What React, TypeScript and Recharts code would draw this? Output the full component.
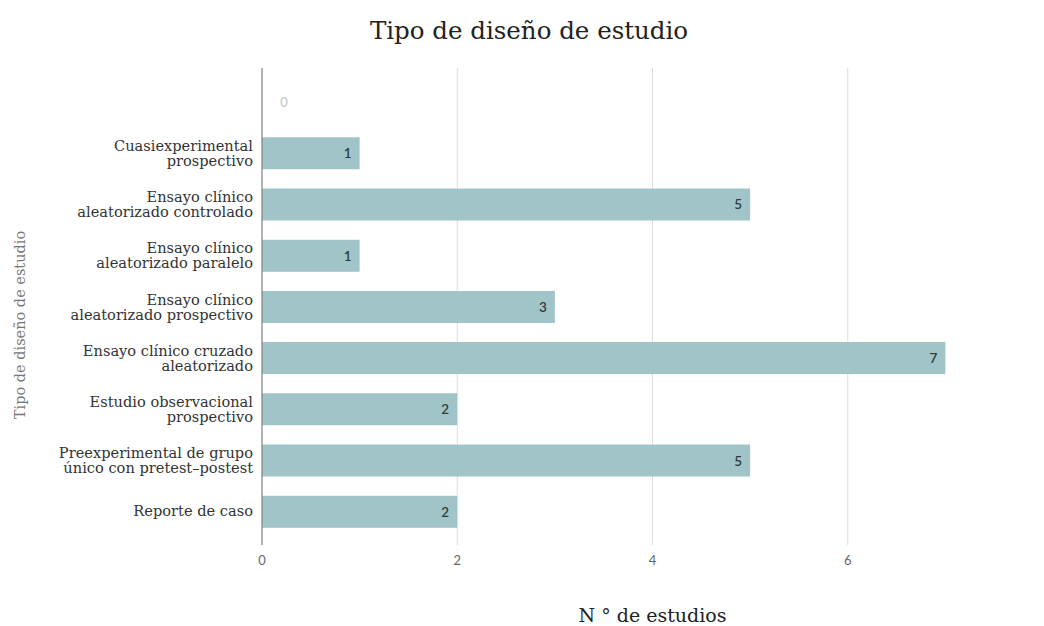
import { BarChart, Bar, XAxis, YAxis, CartesianGrid, LabelList } from 'recharts';

const categories = [
  '',
  'Cuasiexperimental\nprospectivo',
  'Ensayo clínico\naleatorizado controlado',
  'Ensayo clínico\naleatorizado paralelo',
  'Ensayo clínico\naleatorizado prospectivo',
  'Ensayo clínico cruzado\naleatorizado',
  'Estudio observacional\nprospectivo',
  'Preexperimental de grupo\núnico con pretest–postest',
  'Reporte de caso',
];
const counts = [0, 1, 5, 1, 3, 7, 2, 5, 2];
const xTicks = [0, 2, 4, 6, 8];

const data = categories.map((name, i) => ({ name, value: counts[i] }));

const serif = '"DejaVu Serif", serif';
const sans = 'Lato, "Open Sans", sans-serif';

// y tick: multi-line category; an empty category shows its (zero) count next to the axis
function CategoryTick(props: any) {
  const { x, y, payload, index } = props;
  const lines = String(payload.value).split('\n').filter((l) => l);
  if (!lines.length) {
    return (
      <text x={x + 31} y={y + 5} textAnchor="middle" fontFamily={sans} fontSize={13} fill="#b8c4c6">
        {counts[index]}
      </text>
    );
  }
  const first = lines.length > 1 ? -2 : 5;
  return (
    <text x={x} y={y} textAnchor="end" fontFamily={serif} fontSize={14.6} fill="#333">
      {lines.map((l, i) => (
        <tspan key={i} x={x} dy={i === 0 ? first : 15}>
          {l}
        </tspan>
      ))}
    </text>
  );
}

function ValueLabel(props: any) {
  const { x, y, width, height, value } = props;
  if (!value) return null;
  return (
    <text
      x={x + width - 12}
      y={y + height / 2 + 5}
      textAnchor="middle"
      fontFamily={sans}
      fontSize={13.5}
      fontWeight={600}
      fill="#2f3b3c"
    >
      {value}
    </text>
  );
}

export default function App() {
  return (
    <div style={{ position: 'relative', width: 1036, height: 618, overflow: 'hidden', background: '#fff' }}>
      <div
        style={{
          position: 'absolute',
          top: 8,
          left: 0,
          width: 1042,
          textAlign: 'center',
          fontFamily: serif,
          fontSize: 24.5,
          color: '#222',
        }}
      >
        Tipo de diseño de estudio
      </div>
      <div
        style={{
          position: 'absolute',
          top: 596,
          left: 254,
          width: 781,
          textAlign: 'center',
          fontFamily: serif,
          fontSize: 19,
          color: '#222',
        }}
      >
        N ° de estudios
      </div>
      <div style={{ position: 'absolute', top: 0, left: 0 }}>
        <BarChart
          width={1060}
          height={600}
          data={data}
          layout="vertical"
          margin={{ top: 60, right: 25, bottom: 33, left: 0 }}
          barSize={32}
        >
          <CartesianGrid horizontal={false} stroke="#dddddd" />
          <XAxis
            type="number"
            domain={[0, 8]}
            ticks={xTicks}
            axisLine={false}
            tickLine={false}
            tick={{ fontFamily: sans, fontSize: 13, fill: '#666' }}
            tickMargin={5}
          />
          <YAxis
            type="category"
            dataKey="name"
            width={254}
            axisLine={{ stroke: '#777' }}
            tickLine={false}
            tick={<CategoryTick />}
            tickMargin={3}
            padding={{ top: 8, bottom: 8 }}
            interval={0}
          />
          <Bar dataKey="value" fill="#a1c4c9" isAnimationActive={false}>
            <LabelList dataKey="value" content={<ValueLabel />} />
          </Bar>
        </BarChart>
      </div>
      <svg style={{ position: 'absolute', top: 0, left: 0 }} width={40} height={618}>
        <text
          transform="translate(17,317) rotate(-90)"
          textAnchor="middle"
          fontFamily={serif}
          fontSize={14.5}
          fill="#777"
        >
          Tipo de diseño de estudio
        </text>
      </svg>
    </div>
  );
}
